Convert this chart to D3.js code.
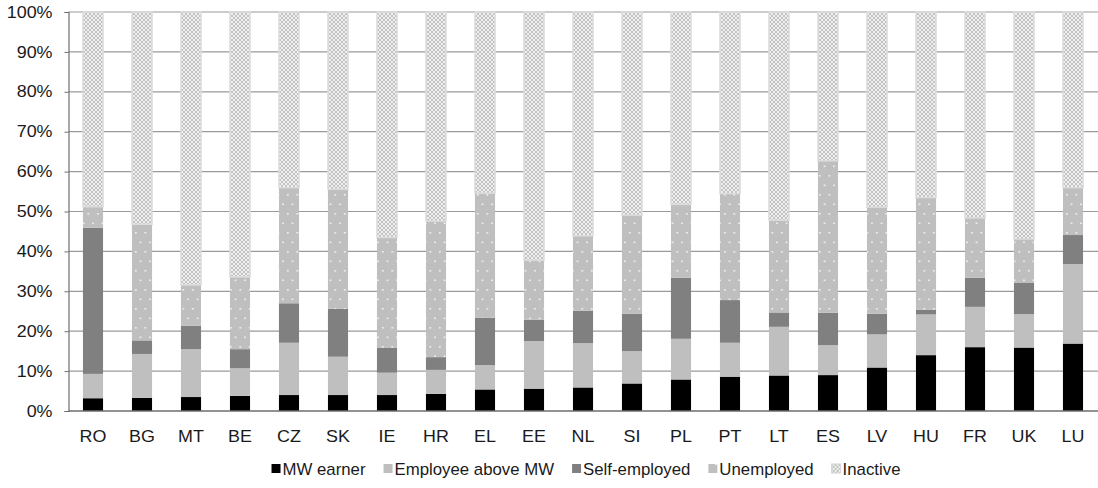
<!DOCTYPE html>
<html lang="en">
<head>
<meta charset="UTF-8">
<title>Labour market status by country</title>
<script src="https://d3js.org/d3.v7.min.js"></script>
<style>
  body { margin: 0; background: #fff; }
  text { font-family: "Liberation Sans", Arial, sans-serif; fill: #1a1a1a; }
</style>
</head>
<body>
<div id="chart"></div>
<script>
// data, shares in percent
var countries = ["RO","BG","MT","BE","CZ","SK","IE","HR","EL","EE","NL","SI","PL","PT","LT","ES","LV","HU","FR","UK","LU"];
var seriesNames = ["MW earner","Employee above MW","Self-employed","Unemployed","Inactive"];
var mwEarner    = [3.2, 3.3, 3.5, 3.8, 4.0, 4.0, 4.0, 4.3, 5.4, 5.6, 5.9, 6.9, 7.9, 8.6, 8.9, 9.0, 10.9, 14.0, 16.0, 15.9, 16.9];
var employeeAbove = [6.1, 11.0, 12.0, 6.9, 13.1, 9.6, 5.6, 6.0, 6.1, 11.9, 11.1, 8.1, 10.2, 8.5, 12.2, 7.5, 8.3, 10.2, 10.1, 8.4, 19.9];
var selfEmployed = [36.6, 3.4, 5.9, 4.8, 9.9, 12.0, 6.2, 3.2, 11.9, 5.4, 8.1, 9.4, 15.3, 10.7, 3.6, 8.1, 5.2, 1.2, 7.3, 7.9, 7.3];
var unemployed  = [5.3, 29.1, 10.2, 18.1, 29.0, 30.0, 27.7, 34.1, 31.2, 14.9, 18.8, 24.7, 18.4, 26.7, 23.1, 38.1, 26.7, 28.1, 15.0, 10.9, 11.9];
var inactive    = [48.8, 53.2, 68.4, 66.4, 44.0, 44.4, 56.5, 52.4, 45.4, 62.2, 56.1, 50.9, 48.2, 45.5, 52.2, 37.3, 48.9, 46.5, 51.6, 56.9, 44.0];
var yTicks = [0, 10, 20, 30, 40, 50, 60, 70, 80, 90, 100];

var width = 1098, height = 488;
var plotLeft = 68.5, plotRight = 1097.5, plotTop = 12, plotBottom = 411;
var stretch = 1.12; // the source text is a bit wide
var legendStretch = 1.05;

var rows = countries.map(function(c, i) {
    return {country: c, "MW earner": mwEarner[i], "Employee above MW": employeeAbove[i],
        "Self-employed": selfEmployed[i], "Unemployed": unemployed[i], "Inactive": inactive[i]};
});
var stacked = d3.stack().keys(seriesNames)(rows);

var x = d3.scaleBand().domain(countries).range([plotLeft, plotRight]).paddingInner(0.59).paddingOuter(0.295);
var y = d3.scaleLinear().domain([0, 100]).range([plotBottom, plotTop]);

var svg = d3.select("#chart").append("svg")
    .attr("width", width)
    .attr("height", height);

var defs = svg.append("defs");

// white dots on grey for "Unemployed"
var dots = defs.append("pattern").attr("id", "dots")
    .attr("patternUnits", "userSpaceOnUse").attr("width", 9.5).attr("height", 19);
dots.append("rect").attr("width", 9.5).attr("height", 19).attr("fill", "#bfbfbf");
dots.append("rect").attr("x", 2).attr("y", 4).attr("width", 1.6).attr("height", 1.6).attr("fill", "#f4f4f4");
dots.append("rect").attr("x", 6.7).attr("y", 13.5).attr("width", 1.6).attr("height", 1.6).attr("fill", "#f4f4f4");

// fine crosshatch for "Inactive"
var hatch = defs.append("pattern").attr("id", "hatch")
    .attr("patternUnits", "userSpaceOnUse").attr("width", 4).attr("height", 4);
hatch.append("rect").attr("width", 4).attr("height", 4).attr("fill", "#f0f0f0");
hatch.append("path").attr("d", "M0,0L4,4M4,0L0,4").attr("stroke", "#bdbdbd").attr("stroke-width", 0.9);

var fills = {
    "MW earner": "#000000",
    "Employee above MW": "#bfbfbf",
    "Self-employed": "#808080",
    "Unemployed": "url(#dots)",
    "Inactive": "url(#hatch)"
};

// gridlines
svg.append("g")
    .selectAll("line")
    .data(yTicks.slice(1))
    .join("line")
    .attr("x1", plotLeft).attr("x2", width)
    .attr("y1", function(d) { return y(d); })
    .attr("y2", function(d) { return y(d); })
    .attr("stroke", "#9a9a9a")
    .attr("stroke-width", 1.2);

// bars
svg.append("g")
    .selectAll("g")
    .data(stacked)
    .join("g")
    .attr("fill", function(s) { return fills[s.key]; })
    .attr("stroke", function(s) { return s.key === "Inactive" ? "#dcdcdc" : "none"; })
    .attr("stroke-width", 1.5)
    .selectAll("rect")
    .data(function(s) { return s; })
    .join("rect")
    .attr("x", function(d) { return x(d.data.country); })
    .attr("width", x.bandwidth())
    .attr("y", function(d) { return y(d[1]); })
    .attr("height", function(d) { return y(d[0]) - y(d[1]); });

// y axis
var yAxis = svg.append("g")
    .attr("transform", "translate(" + plotLeft + ",0)")
    .call(d3.axisLeft(y).tickValues(yTicks).tickSize(4).tickPadding(12)
        .tickFormat(function(d) { return d + "%"; }));
yAxis.select(".domain").attr("stroke", "#6e6e6e").attr("stroke-width", 1.2);
yAxis.selectAll(".tick line").attr("stroke", "#6e6e6e");
yAxis.selectAll(".tick text")
    .attr("font-size", 16)
    .attr("fill", "#1a1a1a")
    .attr("x", -16 / stretch)
    .attr("transform", "scale(" + stretch + ",1)");

// x axis
var xAxis = svg.append("g")
    .attr("transform", "translate(0," + plotBottom + ")")
    .call(d3.axisBottom(x).tickSize(0).tickPadding(20));
xAxis.select(".domain").attr("stroke", "#6e6e6e").attr("stroke-width", 1.5)
    .attr("d", "M" + plotLeft + ",0H" + width);
xAxis.selectAll(".tick text")
    .attr("font-size", 16)
    .attr("fill", "#1a1a1a")
    .attr("transform", "scale(" + stretch + ",1)")
    .attr("x", 0);

// legend
var legend = svg.append("g").attr("transform", "translate(0,469)");
var items = legend.selectAll("g")
    .data(seriesNames)
    .join("g");
items.append("rect")
    .attr("width", 9).attr("height", 9).attr("y", -5)
    .attr("fill", function(d) { return fills[d]; })
    .attr("stroke", function(d) { return d === "Inactive" ? "#d4d4d4" : "none"; });
items.append("text")
    .attr("x", 11 / legendStretch)
    .attr("dy", "0.35em")
    .attr("font-size", 16)
    .attr("transform", "scale(" + legendStretch + ",1)")
    .text(function(d) { return d; });

var offsets = [], pos = 0;
items.each(function() {
    var tw = d3.select(this).select("text").node().getComputedTextLength() * legendStretch;
    offsets.push(pos);
    pos += 11 + tw + 18;
});
var total = pos - 18;
var start = 586 - total / 2;
items.attr("transform", function(d, i) { return "translate(" + (start + offsets[i]) + ",0)"; });
</script>
</body>
</html>
